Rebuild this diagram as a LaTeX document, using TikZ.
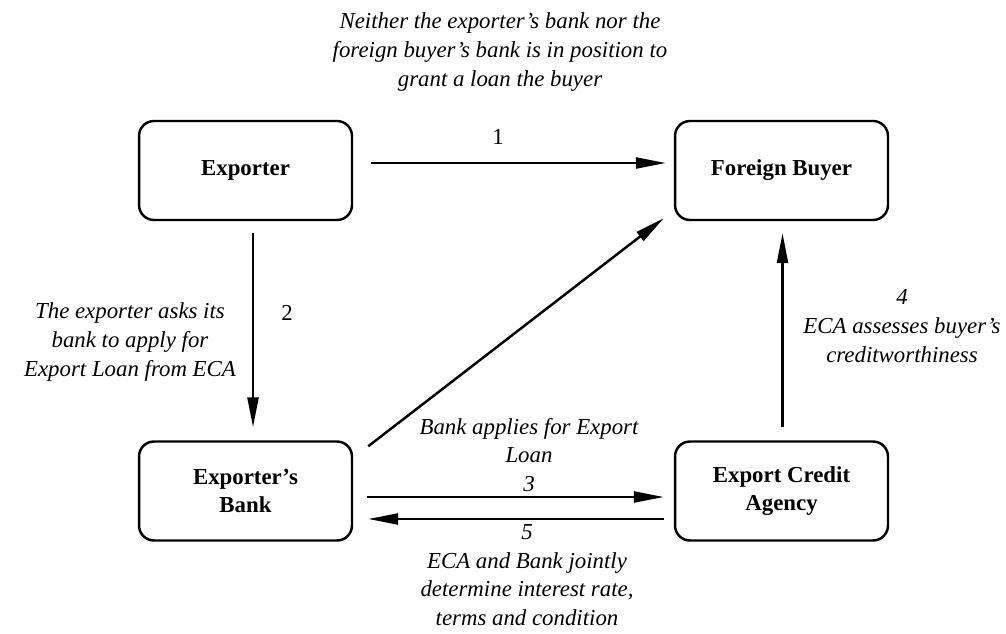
\documentclass[tikz,border=0pt]{standalone}
\usepackage{fontspec}
\setmainfont{Liberation Serif}
\usetikzlibrary{arrows.meta}

\begin{document}
\begin{tikzpicture}[x=0.02cm, y=0.02cm,
    party/.style={draw, line width=1.4pt, rounded corners=0.3cm,
      minimum width=4.26cm, minimum height=1.98cm, align=center,
      font=\fontsize{13}{16}\selectfont\bfseries},
    flow/.style={line width=1.4pt, -{Triangle[length=6mm, width=2.2mm]}},
    note/.style={align=center, font=\fontsize{13}{16.3}\selectfont\itshape},
    numtag/.style={font=\fontsize{13}{16}\selectfont}]
  \useasboundingbox (0,0) rectangle (1006,633);

  % Parties
  \node[party] (exporter) at (245.5, 462.5) {Exporter};
  \node[party] (buyer)    at (781.5, 462.5) {Foreign Buyer};
  \node[party] (bank)     at (245.5, 142)   {Exporter's\\Bank};
  \node[party] (eca)      at (781.5, 142)   {Export Credit\\Agency};

  % Notes
  \node[note] (topnote) at (500, 581) {Neither the exporter's bank nor the\\foreign buyer's bank is in position to\\grant a loan the buyer};
  \node[note] (asknote) at (130, 291) {The exporter asks its\\bank to apply for\\Export Loan from ECA};
  \node[note] (assessnote) at (902, 307) {4\\ECA assesses buyer's\\creditworthiness};
  \node[note] (applynote) at (529, 178) {Bank applies for Export\\Loan\\3};
  \node[note] (jointnote) at (527, 58) {5\\ECA and Bank jointly\\determine interest rate,\\terms and condition};
  \node[numtag] (one) at (498, 496) {1};
  \node[numtag] (two) at (287, 320) {2};

  % Connections
  \draw[flow, shorten <=0.36cm, shorten >=0.16cm] ([yshift=1.5mm]exporter.east) -- ([yshift=1.5mm]buyer.west);
  \draw[flow, shorten <=0.24cm, shorten >=0.26cm] ([xshift=1.5mm]exporter.south) -- ([xshift=1.5mm]bank.north);
  \draw[flow] ([shift={(0.3cm,-0.12cm)}]bank.north east) -- ([shift={(-0.2cm,0.06cm)}]buyer.south west);
  \draw[flow, shorten <=0.28cm, shorten >=0.2cm] ([yshift=-1.2mm]bank.east) -- ([yshift=-1.2mm]eca.west);
  \draw[flow, shorten <=0.26cm, shorten >=0.24cm] ([xshift=0.2mm]eca.north) -- ([xshift=0.2mm]buyer.south);
  \draw[flow, shorten <=0.2cm, shorten >=0.3cm] ([yshift=-5.6mm]eca.west) -- ([yshift=-5.6mm]bank.east);
\end{tikzpicture}
\end{document}
